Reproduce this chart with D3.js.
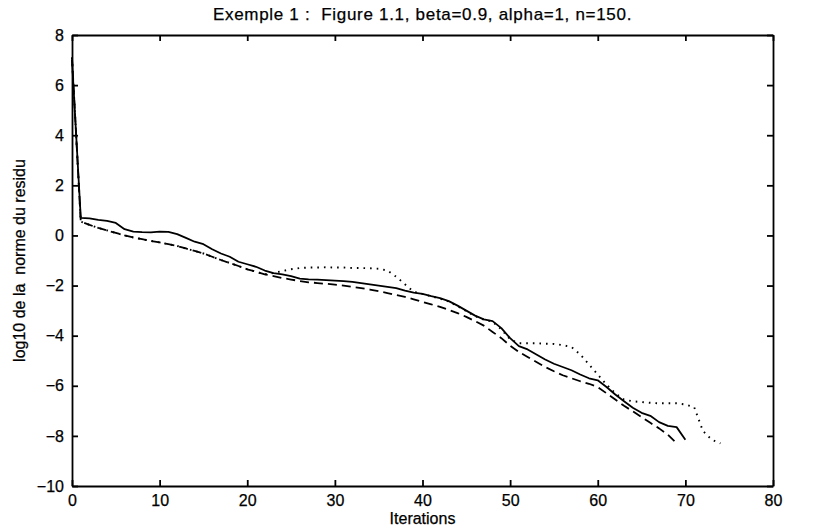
<!DOCTYPE html>
<html lang="fr">
<head>
  <meta charset="UTF-8">
  <title>Exemple 1</title>
  <script src="https://d3js.org/d3.v7.min.js"></script>
  <style>
    body { margin: 0; background: #fff; }
    svg text { font-family: "Liberation Sans", Arial, sans-serif; fill: #000; stroke: #000; stroke-width: 0.25; white-space: pre; }
    .axis path, .axis line { stroke: #000; stroke-width: 1.8; }
  </style>
</head>
<body>
<svg width="828" height="529"></svg>
<script>
  // log10 de la norme du residu, une valeur par iteration
  const solide = [7.0, 0.7, 0.68, 0.62, 0.58, 0.5, 0.25, 0.15, 0.13, 0.12,
    0.15, 0.14, 0.05, -0.1, -0.25, -0.35, -0.55, -0.72, -0.85, -1.05,
    -1.15, -1.25, -1.4, -1.5, -1.55, -1.62, -1.72, -1.75, -1.76, -1.78,
    -1.8, -1.82, -1.85, -1.9, -1.95, -2.0, -2.05, -2.1, -2.2, -2.28,
    -2.33, -2.42, -2.5, -2.62, -2.8, -3.0, -3.2, -3.35, -3.42, -3.7,
    -4.1, -4.42, -4.55, -4.75, -4.95, -5.12, -5.25, -5.38, -5.55, -5.7,
    -5.78, -6.05, -6.35, -6.62, -6.88, -7.08, -7.2, -7.45, -7.6, -7.65,
    -8.15];
  const tirets = [7.1, 0.55, 0.42, 0.3, 0.2, 0.1, 0.0, -0.08, -0.15, -0.22,
    -0.28, -0.35, -0.42, -0.52, -0.62, -0.72, -0.85, -0.98, -1.1, -1.22,
    -1.35, -1.45, -1.55, -1.62, -1.7, -1.76, -1.82, -1.87, -1.9, -1.93,
    -1.96, -2.0, -2.05, -2.1, -2.16, -2.22, -2.3, -2.38, -2.45, -2.55,
    -2.65, -2.75, -2.85, -2.97, -3.1, -3.25, -3.42, -3.6, -3.85, -4.1,
    -4.4, -4.65, -4.85, -5.05, -5.25, -5.42, -5.58, -5.7, -5.82, -5.92,
    -6.05, -6.3, -6.55, -6.8, -7.02, -7.25, -7.48, -7.7, -7.95, -8.3];
  const pointilles = [7.1, 0.55, 0.42, 0.3, 0.2, 0.1, 0.0, -0.08, -0.15, -0.22,
    -0.28, -0.35, -0.42, -0.52, -0.62, -0.72, -0.85, -0.98, -1.1, -1.22,
    -1.35, -1.45, -1.55, -1.5, -1.42, -1.35, -1.3, -1.28, -1.28, -1.27,
    -1.28, -1.28, -1.3, -1.3, -1.31, -1.33, -1.4, -1.65, -1.95, -2.25,
    -2.33, -2.43, -2.52, -2.64, -2.82, -3.02, -3.22, -3.36, -3.44, -3.75,
    -4.15, -4.3, -4.3, -4.3, -4.32, -4.33, -4.38, -4.45, -4.75, -5.15,
    -5.55, -5.95, -6.3, -6.55, -6.62, -6.65, -6.68, -6.7, -6.7, -6.7,
    -6.75, -6.85, -7.8, -8.15, -8.3];

  const xTicks = [0, 10, 20, 30, 40, 50, 60, 70, 80];
  const yTicks = [-10, -8, -6, -4, -2, 0, 2, 4, 6, 8];

  const svg = d3.select("svg");
  const margin = {top: 35, right: 55, bottom: 43, left: 72};
  const width = +svg.attr("width") - margin.left - margin.right;
  const height = +svg.attr("height") - margin.top - margin.bottom;
  const g = svg.append("g").attr("transform", `translate(${margin.left},${margin.top})`);

  const x = d3.scaleLinear().domain([0, 80]).range([0, width]);
  const y = d3.scaleLinear().domain([-10, 8]).range([height, 0]);

  // Axes (graduations vers l'interieur, style Matlab)
  g.append("g").attr("class", "axis")
    .attr("transform", `translate(0,${height})`)
    .call(d3.axisBottom(x).tickValues(xTicks).tickSizeInner(-6).tickSizeOuter(0).tickPadding(9))
    .call(a => a.selectAll("text").style("font-size", "16px"));
  g.append("g").attr("class", "axis")
    .call(d3.axisLeft(y).tickValues(yTicks).tickSizeInner(-6).tickSizeOuter(0).tickPadding(8))
    .call(a => a.selectAll("text").style("font-size", "16px"));
  g.append("g").attr("class", "axis")
    .call(d3.axisTop(x).tickValues(xTicks).tickSizeInner(-6).tickSizeOuter(0).tickFormat(""));
  g.append("g").attr("class", "axis")
    .attr("transform", `translate(${width},0)`)
    .call(d3.axisRight(y).tickValues(yTicks).tickSizeInner(-6).tickSizeOuter(0).tickFormat(""));

  // Courbes
  const line = d3.line().x((d, i) => x(i)).y(d => y(d));
  const courbes = [
    {data: pointilles, dash: "1.6,5", w: 1.9},
    {data: tirets, dash: "9,5", w: 1.8},
    {data: solide, dash: null, w: 1.8}
  ];
  courbes.forEach(c => {
    g.append("path")
      .datum(c.data)
      .attr("fill", "none")
      .attr("stroke", "#000")
      .attr("stroke-width", c.w)
      .attr("stroke-dasharray", c.dash)
      .attr("stroke-linejoin", "round")
      .attr("d", line);
  });

  // Titre et libelles
  svg.append("text")
    .attr("x", margin.left + width / 2).attr("y", 20)
    .attr("text-anchor", "middle")
    .style("font-size", "17px")
    .style("letter-spacing", "0.7px")
    .text("Exemple 1 :  Figure 1.1, beta=0.9, alpha=1, n=150.");
  svg.append("text")
    .attr("x", margin.left + width / 2).attr("y", 524)
    .attr("text-anchor", "middle")
    .style("font-size", "16px")
    .text("Iterations");
  svg.append("text")
    .attr("transform", `translate(25,${margin.top + height / 2}) rotate(-90)`)
    .attr("text-anchor", "middle")
    .style("font-size", "16px")
    .text("log10 de la  norme du residu");
</script>
</body>
</html>
